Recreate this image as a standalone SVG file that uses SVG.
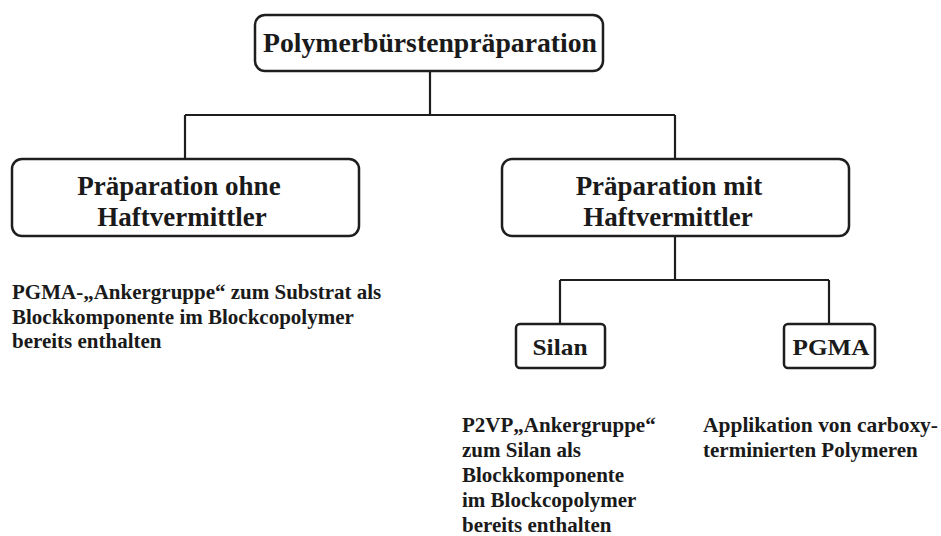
<svg xmlns="http://www.w3.org/2000/svg" width="941" height="536" viewBox="0 0 941 536">
<style>
.box{fill:#fff;stroke:#1e1e1e;stroke-width:2.5}
.conn{fill:none;stroke:#1e1e1e;stroke-width:2.2}
.t{font-family:"Liberation Serif","Times New Roman",serif;font-weight:bold;fill:#1a1a1a}
.h{font-size:27px;text-anchor:middle}
.s{font-size:23px;text-anchor:middle}
.b{font-size:21px}
</style>
<rect width="941" height="536" fill="#fff"/>
<g id="connectors">
<path class="conn" d="M430 71V115M185 115H675M185 115V159M675 115V159"/>
<path class="conn" d="M675 236V280M560 280H829M560 280V324M829 280V324"/>
</g>
<g id="root">
<rect class="box" x="255" y="15" width="348" height="56" rx="10"/>
<text class="t h" style="font-size:28px" x="430" y="52" textLength="334" lengthAdjust="spacingAndGlyphs">Polymerbürstenpräparation</text>
</g>
<g id="ohne">
<rect class="box" x="12" y="159" width="347" height="77" rx="10"/>
<text class="t h" x="179" y="195">Präparation ohne</text>
<text class="t h" x="182" y="226">Haftvermittler</text>
</g>
<g id="mit">
<rect class="box" x="502" y="159" width="347" height="77" rx="10"/>
<text class="t h" x="669" y="195">Präparation mit</text>
<text class="t h" x="668" y="226">Haftvermittler</text>
</g>
<g id="silan">
<rect class="box" x="516" y="324" width="89" height="44" rx="4"/>
<text class="t s" x="560" y="355" textLength="55" lengthAdjust="spacingAndGlyphs">Silan</text>
</g>
<g id="pgma">
<rect class="box" x="784" y="324" width="91" height="44" rx="4"/>
<text class="t s" x="831" y="355" textLength="77" lengthAdjust="spacingAndGlyphs">PGMA</text>
</g>
<g id="text-ohne">
<text class="t b" x="12" y="299">PGMA-„Ankergruppe“ zum Substrat als</text>
<text class="t b" x="12" y="324">Blockkomponente im Blockcopolymer</text>
<text class="t b" x="12" y="348">bereits enthalten</text>
</g>
<g id="text-silan">
<text class="t b" x="462" y="432">P2VP„Ankergruppe“</text>
<text class="t b" x="462" y="457">zum Silan als</text>
<text class="t b" x="462" y="482">Blockkomponente</text>
<text class="t b" x="462" y="507">im Blockcopolymer</text>
<text class="t b" x="462" y="532">bereits enthalten</text>
</g>
<g id="text-pgma">
<text class="t b" x="703" y="432" textLength="235" lengthAdjust="spacingAndGlyphs">Applikation von carboxy-</text>
<text class="t b" x="703" y="457">terminierten Polymeren</text>
</g>
</svg>
